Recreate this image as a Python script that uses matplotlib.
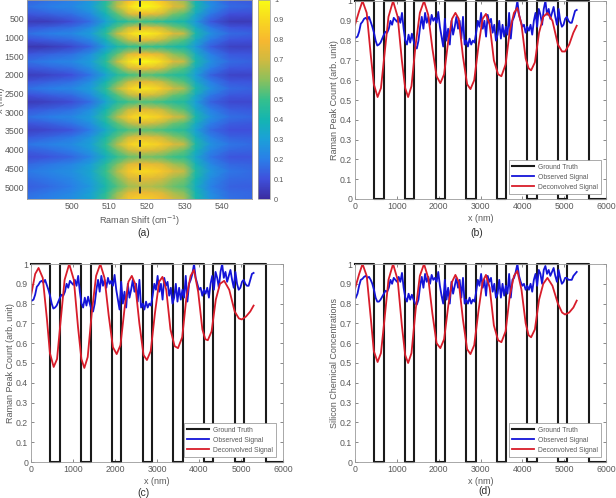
import matplotlib
matplotlib.use('Agg')
import matplotlib.pyplot as plt
import numpy as np
from matplotlib.colors import LinearSegmentedColormap, Normalize
from matplotlib.cm import ScalarMappable

plt.rcParams['font.family'] = ['Liberation Sans', 'DejaVu Sans']

W, H = 616, 498
GRAY = '#5a5a5a'

# heatmap
shift = [488, 494, 500, 505, 509, 512, 515, 518, 521, 524, 527, 530, 533, 537, 542, 548]
heat_x = [0, 180, 380, 580, 740, 900, 1075, 1250, 1450, 1650, 1830, 2010, 2190, 2370, 2550,
          2730, 2930, 3130, 3300, 3480, 3670, 3860, 4030, 4200, 4390, 4580, 4780, 4990, 5150, 5320]
heat = [
    [.14, .17, .20, .27, .44, .62, .80, .92, .90, .82, .68, .62, .38, .22, .13, .12],
    [.17, .20, .23, .30, .47, .68, .90, 1.0, .98, .90, .74, .68, .42, .25, .16, .14],
    [.11, .14, .17, .24, .39, .54, .70, .78, .76, .70, .58, .53, .35, .19, .10, .09],
    [.04, .05, .09, .17, .31, .42, .47, .51, .49, .47, .43, .41, .28, .12, .04, .04],
    [.11, .14, .17, .24, .39, .54, .68, .76, .74, .68, .58, .53, .35, .19, .11, .10],
    [.17, .20, .23, .30, .47, .68, .88, .97, .95, .88, .74, .68, .42, .25, .16, .14],
    [.10, .13, .16, .23, .38, .54, .68, .76, .74, .68, .58, .53, .35, .19, .11, .10],
    [.03, .04, .08, .15, .30, .41, .47, .50, .49, .47, .43, .41, .28, .13, .06, .06],
    [.11, .14, .17, .25, .40, .55, .72, .80, .78, .72, .60, .55, .36, .20, .12, .11],
    [.17, .20, .23, .30, .47, .68, .92, 1.0, .98, .90, .74, .68, .42, .25, .16, .14],
    [.11, .14, .17, .25, .40, .54, .70, .78, .76, .70, .58, .53, .35, .20, .12, .11],
    [.05, .07, .10, .18, .32, .44, .50, .54, .53, .50, .46, .44, .30, .14, .07, .07],
    [.11, .14, .17, .25, .40, .54, .68, .76, .74, .68, .58, .53, .35, .20, .12, .11],
    [.17, .20, .23, .30, .47, .66, .86, .94, .92, .85, .70, .64, .42, .25, .16, .14],
    [.10, .13, .16, .24, .39, .53, .66, .73, .71, .66, .56, .52, .35, .19, .12, .11],
    [.04, .06, .09, .17, .32, .44, .50, .53, .52, .50, .46, .44, .30, .14, .08, .08],
    [.11, .14, .17, .25, .40, .54, .68, .75, .73, .68, .58, .53, .35, .20, .13, .12],
    [.17, .20, .23, .30, .47, .66, .85, .92, .90, .85, .72, .66, .42, .25, .17, .15],
    [.11, .14, .18, .26, .41, .54, .66, .73, .71, .66, .57, .53, .36, .20, .13, .12],
    [.06, .08, .11, .20, .34, .46, .52, .55, .54, .52, .48, .46, .31, .16, .10, .10],
    [.12, .15, .19, .27, .42, .55, .69, .76, .74, .69, .60, .55, .37, .21, .14, .13],
    [.18, .21, .24, .31, .48, .66, .86, .92, .90, .85, .74, .68, .43, .26, .18, .16],
    [.13, .16, .20, .28, .43, .56, .68, .74, .72, .68, .60, .55, .38, .22, .15, .14],
    [.09, .11, .15, .23, .37, .48, .55, .58, .57, .55, .50, .48, .33, .18, .11, .11],
    [.15, .18, .22, .30, .45, .58, .72, .78, .76, .72, .63, .58, .39, .23, .15, .14],
    [.19, .22, .25, .33, .50, .66, .84, .90, .89, .84, .74, .68, .44, .27, .18, .16],
    [.16, .19, .23, .31, .46, .58, .70, .75, .74, .70, .62, .58, .40, .24, .16, .15],
    [.13, .16, .20, .28, .42, .53, .62, .66, .65, .62, .56, .53, .36, .21, .14, .13],
    [.16, .19, .23, .31, .46, .60, .74, .78, .76, .72, .64, .59, .40, .24, .16, .15],
    [.18, .21, .25, .33, .50, .66, .84, .88, .86, .80, .70, .65, .42, .26, .17, .15],
]
cbar_ticks = [0, .1, .2, .3, .4, .5, .6, .7, .8, .9, 1]
cbar_labels = ['0', '0.1', '0.2', '0.3', '0.4', '0.5', '0.6', '0.7', '0.8', '0.9', '1']
parula = ['#3a2da0', '#3f50dc', '#2a7fe8', '#1ba0d8', '#14b5b0', '#35c08c',
          '#8cc05c', '#d0ba40', '#f8b82f', '#f8d820', '#f9fb15']

# ground truth
truth_x = [0, 462, 462, 685, 685, 1195, 1195, 1418, 1418, 1936, 1936, 2151, 2151, 2661, 2661,
           2884, 2884, 3386, 3386, 3609, 3609, 4120, 4120, 4343, 4343, 4860, 4860, 5075, 5075,
           5585, 5585, 6000]
truth_y = [1, 1, 0, 0, 1, 1, 0, 0, 1, 1, 0, 0, 1, 1, 0, 0, 1, 1, 0, 0, 1, 1, 0, 0, 1, 1, 0, 0, 1, 1, 0, 0]

# observed signal
obs_b = [.815, .82, .845, .885, .895, .91, .915, .905, .92, .895, .87, .84, .80,
         .775, .78, .79, .81, .83, .845, .84, .86, .90, .88, .915, .905, .895,
         .92, .89, .94, .86, .80, .78, .83, .79, .835, .80, .77, .76, .80,
         .87, .92, .86, .94, .89, .92, .88, .93, .90, .915, .89, .945, .87, .82,
         .77, .91, .80, .86, .78, .90, .83, .87, .92, .86,
         .90, .81, .92, .78, .80, .77, .81, .78, .80, .79,
         .84, .90, .87, .94, .86, .90, .82, .93, .89, .91, .84, .88, .80,
         .83, .90, .81, .88, .82, .87, .83, .94, .81, .90,
         .92, .95, 1.0, .93, .90, .87, .88, .84, .87, .85, .88, .83, .90,
         .94, .87, .96, .93, .88, .96, 1.0, .93, .96, .91, .94, .97, .92,
         .88, .96, .90, .87, .88, .91, .92, .90, .89, .89, .92, .95, .955]
obs_d = [.83, .85, .89, .92, .925, .935, .94, .93, .935, .92, .90, .87, .83,
         .81, .81, .82, .835, .85, .865, .86, .88, .92, .90, .93, .92, .91,
         .935, .91, .955, .88, .83, .81, .85, .82, .845, .82, .80, .795, .82,
         .89, .935, .88, .95, .91, .935, .90, .945, .92, .93, .91, .96, .89, .84,
         .80, .92, .82, .88, .80, .91, .85, .89, .93, .88,
         .92, .83, .93, .80, .82, .80, .83, .80, .82, .81,
         .86, .92, .89, .95, .88, .92, .84, .94, .91, .93, .86, .90, .83,
         .85, .92, .83, .90, .84, .89, .85, .95, .83, .92,
         .93, .96, 1.0, .94, .91, .89, .90, .87, .89, .87, .90, .86, .92,
         .95, .89, .97, .95, .90, .97, .99, .95, .97, .94, .96, .98, .94,
         .91, .97, .93, .90, .91, .93, .93, .92, .92, .92, .94, .95, .96]

# deconvolved signal
dec_x = [0, 100, 180, 280, 380, 450, 540, 620, 700, 800, 910, 1020, 1120, 1200, 1270, 1350, 1450,
         1550, 1650, 1750, 1850, 1950, 2040, 2130, 2230, 2320, 2400, 2480, 2580, 2680, 2760, 2850,
         2950, 3050, 3130, 3220, 3320, 3420, 3500, 3600, 3700, 3800, 3880, 3980, 4080, 4150, 4210,
         4300, 4400, 4500, 4600, 4720, 4850, 4950, 5020, 5120, 5220, 5300]
dec_b = [.88, .95, 1.0, .94, .72, .58, .515, .56, .72, .92, 1.0, .92, .70, .56, .515, .57, .78,
         .94, 1.0, .93, .76, .62, .585, .63, .80, .91, .94, .91, .72, .58, .555, .60,
         .77, .91, .935, .88, .70, .63, .62, .68, .85, .94, .965, .88, .71, .66, .65,
         .69, .84, .92, .94, .90, .78, .745, .745, .78, .84, .875]
dec_c = [.84, .95, .98, .93, .72, .55, .48, .52, .70, .92, 1.0, .92, .68, .52, .475, .53, .76,
         .94, 1.0, .93, .74, .58, .545, .59, .78, .91, .94, .90, .70, .54, .515, .56,
         .75, .91, .935, .87, .67, .585, .575, .63, .83, .94, .97, .86, .67, .62, .615,
         .66, .82, .90, .915, .87, .76, .725, .72, .735, .76, .79]
dec_d = [.875, .95, 1.0, .94, .72, .56, .505, .55, .71, .92, 1.0, .92, .69, .54, .50, .55, .77,
         .94, 1.0, .93, .75, .60, .575, .62, .79, .91, .945, .91, .72, .57, .545, .59,
         .76, .91, .945, .88, .69, .615, .605, .66, .84, .94, .965, .87, .70, .64, .63,
         .67, .82, .90, .93, .89, .80, .755, .745, .755, .78, .815]


def px_axes(fig, left, top, right, bottom):
    return fig.add_axes([left / W, 1 - bottom / H, (right - left) / W, (bottom - top) / H])


def style(ax):
    ax.tick_params(direction='in', length=2, width=0.5, labelsize=6.3, colors=GRAY,
                   top=True, right=True, pad=2)
    for s in ax.spines.values():
        s.set_color('#9a9a9a')
        s.set_linewidth(0.6)


def line_panel(fig, box, obs, dec, ylabel, legend_box):
    ax = px_axes(fig, *box)
    ax.plot(truth_x, truth_y, color='#1a1a1a', lw=1.5, label='Ground Truth', clip_on=False)
    ax.plot(np.linspace(20, 5300, len(obs)), obs, color='#1414d8', lw=1.3, label='Observed Signal')
    ax.plot(dec_x, dec, color='#d81c2a', lw=1.3, label='Deconvolved Signal')
    ax.set_xlim(0, 6000)
    ax.set_ylim(0, 1)
    ax.set_xticks(range(0, 7000, 1000))
    ax.set_yticks(cbar_ticks)
    ax.set_yticklabels(cbar_labels)
    ax.set_xlabel('x (nm)', fontsize=6.5, color=GRAY, labelpad=2.5)
    ax.set_ylabel(ylabel, fontsize=6.5, color=GRAY, labelpad=0.5)
    style(ax)
    leg = ax.legend(loc='lower left', bbox_to_anchor=legend_box, fontsize=4.9, fancybox=False,
                    framealpha=1, edgecolor='#8a8a8a', borderpad=0.5, labelspacing=0.45,
                    handlelength=3.2, handletextpad=0.5, borderaxespad=0)
    leg.get_frame().set_linewidth(0.5)
    for t in leg.get_texts():
        t.set_color(GRAY)
    return ax


fig = plt.figure(figsize=(W / 100, H / 100), dpi=100, facecolor='white')

cmap = LinearSegmentedColormap.from_list('parula_like', parula)
norm = Normalize(0, 1)

# (a)
ax_a = px_axes(fig, 27, 0, 252, 199)
ax_a.pcolormesh(shift, heat_x, heat, shading='gouraud', cmap=cmap, norm=norm)
ax_a.plot([518, 518], [0, 5200], color='#20303c', lw=1.4, ls=(0, (3.5, 2.5)))
ax_a.set_xlim(488, 548)
ax_a.set_ylim(5320, 0)
ax_a.set_xticks([500, 510, 520, 530, 540])
ax_a.set_yticks(range(500, 5500, 500))
ax_a.set_xlabel('Raman Shift (cm$^{-1}$)', fontsize=6.5, color=GRAY, labelpad=2)
style(ax_a)
ax_a.tick_params(top=False, right=False, length=0)
fig.text(1 / W, 1 - 100 / H, 'x (nm)', rotation=90, fontsize=6.5, color=GRAY, ha='center', va='center')

cax = px_axes(fig, 258, 0, 270, 199)
cb = fig.colorbar(ScalarMappable(norm=norm, cmap=cmap), cax=cax)
cb.set_ticks(cbar_ticks)
cb.set_ticklabels(cbar_labels)
cb.ax.tick_params(length=0, labelsize=5.3, colors=GRAY, pad=3)
cb.outline.set_edgecolor('#9a9a9a')
cb.outline.set_linewidth(0.5)

# (b), (c), (d)
line_panel(fig, (355, 1, 606, 199), obs_b, dec_b, 'Raman Peak Count (arb. unit)', (0.6135, 0.025))
line_panel(fig, (31, 264, 283, 462), obs_b, dec_c, 'Raman Peak Count (arb. unit)', (0.607, 0.025))
line_panel(fig, (355, 264, 606, 462), obs_d, dec_d, 'Silicon Chemical Concentrations', (0.6135, 0.025))

# panel letters
for x, y, s in [(144, 233, '(a)'), (477, 233, '(b)'), (143, 493, '(c)'), (485, 491, '(d)')]:
    fig.text(x / W, 1 - y / H, s, fontsize=7.5, color='#303030', ha='center', va='center')

fig.savefig('out.png', dpi=100)
